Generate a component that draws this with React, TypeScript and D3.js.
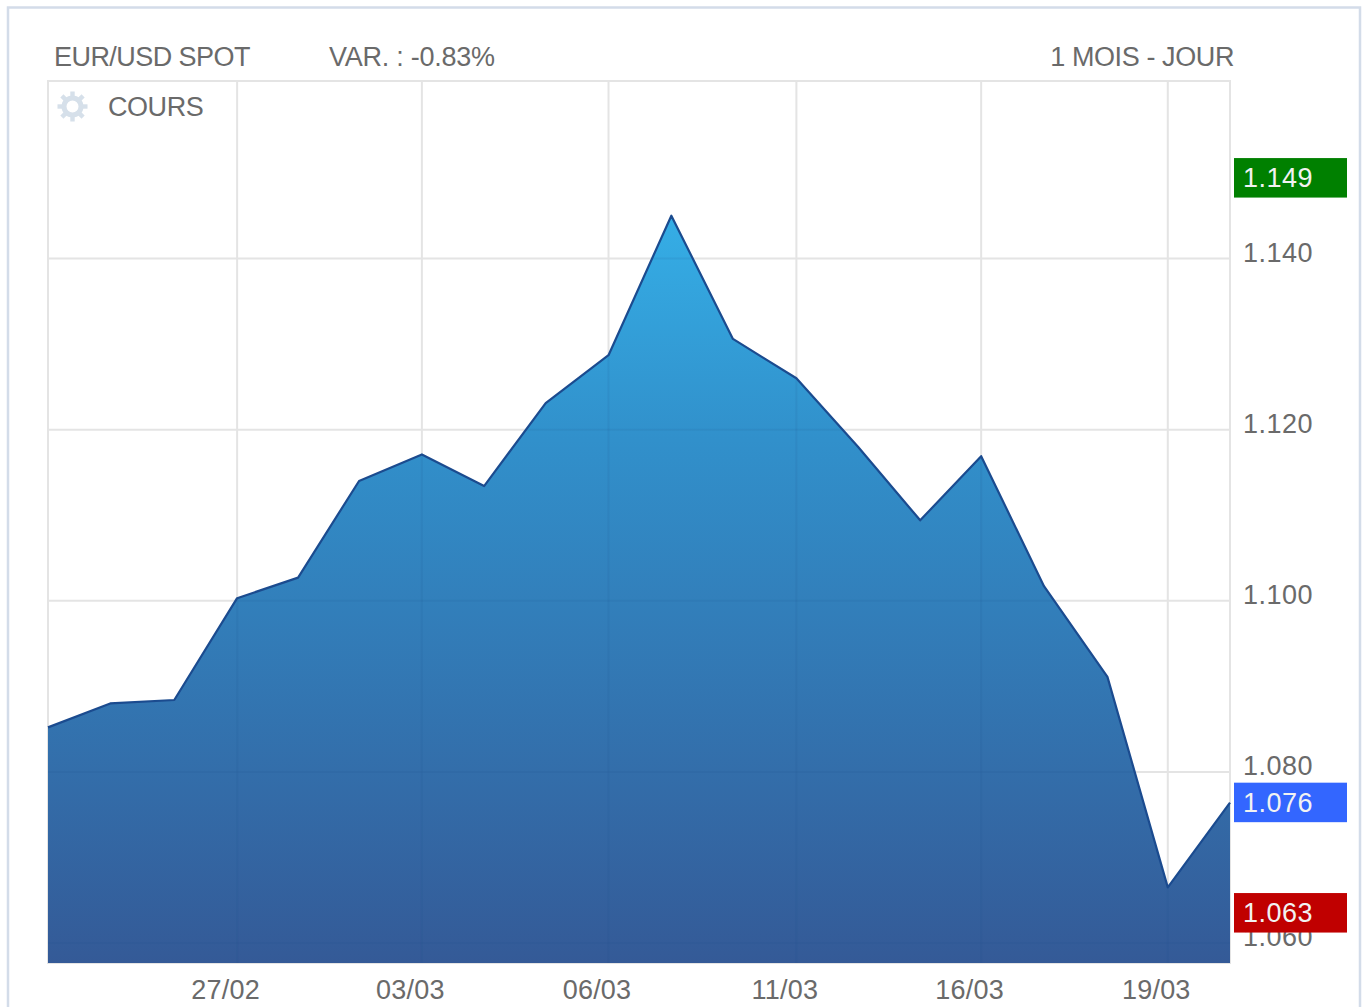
import React from "react";
import * as d3 from "d3";

// Session position and closing level of each trading day shown
const sessionPositions = [0, 1, 2.03, 3.04, 4.02, 5, 6.01, 7.01, 8, 9.01, 10.02, 11.01, 12.03, 13.02, 14.02, 15, 16.01, 17.03, 18, 19];
const closes = [1.0852, 1.088, 1.0884, 1.1003, 1.1027, 1.114, 1.1171, 1.1134, 1.1231, 1.1287, 1.145, 1.1306, 1.126, 1.118, 1.1094, 1.1169, 1.1017, 1.0911, 1.0665, 1.0764];

const dateTicks = [
  { position: 3.04, label: "27/02" },
  { position: 6.01, label: "03/03" },
  { position: 9.01, label: "06/03" },
  { position: 12.03, label: "11/03" },
  { position: 15, label: "16/03" },
  { position: 18, label: "19/03" },
];
const priceTicks = [1.06, 1.08, 1.1, 1.12, 1.14];

const highPrice = 1.1494;
const lowPrice = 1.0635;
const lastPrice = closes[closes.length - 1];

const pair = "EUR/USD SPOT";
const variation = "VAR. : -0.83%";
const period = "1 MOIS - JOUR";
const seriesName = "COURS";

const FONT = "'Liberation Sans', Arial, sans-serif";
const TEXT = "#6a6a6a";
const GRID = "#e4e4e4";

const plot = { left: 48, right: 1230, top: 81, bottom: 963 };

const x = d3.scaleLinear().domain([0, 19]).range([plot.left, plot.right]);
const y = d3.scaleLinear().domain([1.06, 1.14]).range([943, 258.5]);

const points = sessionPositions.map((p, i) => ({ p, v: closes[i] }));
const areaPath = d3
  .area<{ p: number; v: number }>()
  .x((d) => x(d.p))
  .y0(plot.bottom)
  .y1((d) => y(d.v))(points) as string;
const linePath = d3
  .line<{ p: number; v: number }>()
  .x((d) => x(d.p))
  .y((d) => y(d.v))(points) as string;

const markers = [
  { value: highPrice, fill: "#008000" },
  { value: lastPrice, fill: "#3366ff" },
  { value: lowPrice, fill: "#c00000" },
];

const gearTeeth = d3.range(8).map((i) => (i * 360) / 8);

export default function App() {
  const fmt = d3.format(".3f");
  return (
    <svg
      width={1367}
      height={1007}
      style={{ position: "absolute", left: 0, top: 0, background: "#fff" }}
      fontFamily={FONT}
    >
      <defs>
        <linearGradient id="areaFill" x1="0" y1="0" x2="0" y2="1">
          <stop offset="0" stopColor="#35aee6" />
          <stop offset="0.3" stopColor="#3190cb" />
          <stop offset="1" stopColor="#345a97" />
        </linearGradient>
      </defs>

      {/* outer frame */}
      <path d="M8 1007V7.5H1360V1007" fill="none" stroke="#d3dce9" strokeWidth={2.5} />

      {/* header */}
      <text x={54} y={66} fontSize={27} fill={TEXT} letterSpacing={-0.55}>{pair}</text>
      <text x={329} y={66} fontSize={27} fill={TEXT} letterSpacing={-0.25}>{variation}</text>
      <text x={1234} y={66} fontSize={27} fill={TEXT} letterSpacing={-0.4} textAnchor="end">{period}</text>

      {/* plot border and grid */}
      <rect x={plot.left} y={plot.top} width={plot.right - plot.left} height={plot.bottom - plot.top} fill="none" stroke={GRID} strokeWidth={2} />
      {dateTicks.map((t) => (
        <line key={t.label} x1={x(t.position)} x2={x(t.position)} y1={plot.top} y2={plot.bottom} stroke={GRID} strokeWidth={2} />
      ))}
      {priceTicks.filter((t) => t > 1.06).map((t) => (
        <line key={t} x1={plot.left} x2={plot.right} y1={y(t)} y2={y(t)} stroke={GRID} strokeWidth={2} />
      ))}

      {/* price area, with the grid showing faintly through it */}
      <path d={areaPath} fill="url(#areaFill)" />
      <clipPath id="areaClip"><path d={areaPath} /></clipPath>
      <g clipPath="url(#areaClip)" stroke="#1f4a86" strokeOpacity={0.1} strokeWidth={2}>
        {dateTicks.map((t) => (
          <line key={t.label} x1={x(t.position)} x2={x(t.position)} y1={plot.top} y2={plot.bottom} />
        ))}
        {priceTicks.map((t) => (
          <line key={t} x1={plot.left} x2={plot.right} y1={y(t)} y2={y(t)} />
        ))}
      </g>
      <path d={linePath} fill="none" stroke="#1b4b8f" strokeWidth={2.2} strokeLinejoin="round" />

      {/* series legend with settings gear */}
      <g transform="translate(72.5,106.5)">
        <circle r={8.5} fill="none" stroke="#d6e0ea" strokeWidth={5} />
        {gearTeeth.map((a) => (
          <rect key={a} x={-2.2} y={-15} width={4.4} height={5} fill="#d6e0ea" transform={`rotate(${a})`} />
        ))}
      </g>
      <text x={108} y={116} fontSize={27} fill={TEXT} letterSpacing={-0.45}>{seriesName}</text>

      {/* axis labels */}
      {dateTicks.map((t) => (
        <text key={t.label} x={x(t.position) - 11.5} y={999} fontSize={27} fill={TEXT} textAnchor="middle" letterSpacing={0.2}>{t.label}</text>
      ))}
      {priceTicks.map((t) => (
        <text key={t} x={1243} y={y(t) + 3} fontSize={27} fill={TEXT} letterSpacing={0.5}>{fmt(t)}</text>
      ))}

      {/* high, last and low price flags */}
      {markers.map((m) => (
        <g key={m.fill}>
          <rect x={1234} y={y(m.value) - 20} width={113} height={39.5} fill={m.fill} />
          <text x={1243} y={y(m.value) + 9} fontSize={27} fill="#f2f2f2" letterSpacing={0.5}>{fmt(m.value)}</text>
        </g>
      ))}
    </svg>
  );
}
